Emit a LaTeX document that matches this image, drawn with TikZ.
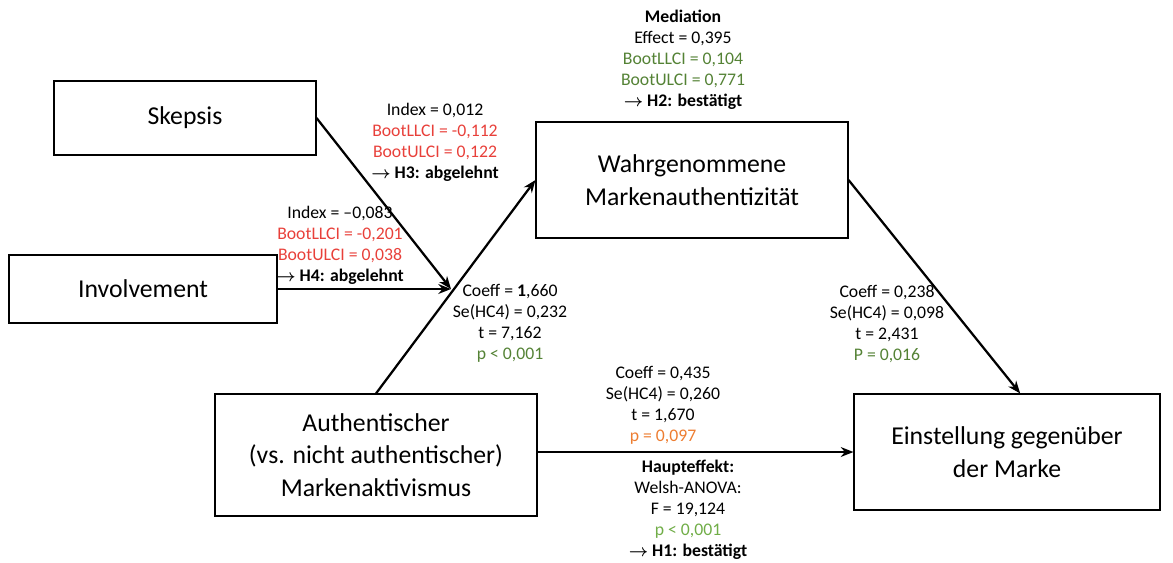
\documentclass[tikz,border=0pt]{standalone}
\usepackage{fontspec}
\setmainfont{Carlito}
\usetikzlibrary{arrows.meta}
\definecolor{sigred}{RGB}{232,64,58}
\definecolor{siggreen}{RGB}{84,130,53}
\definecolor{lightgreen}{RGB}{112,173,71}
\definecolor{trendorange}{RGB}{237,125,49}
\newcommand{\hyparrow}{{\boldmath$\rightarrow$}}

\begin{document}
\begin{tikzpicture}[x=0.025cm,y=-0.025cm,
    box/.style={draw,line width=1.3pt,align=center,font=\fontsize{18.3}{23}\selectfont},
    stat/.style={align=center,inner sep=0pt,font=\fontsize{12.6}{15}\selectfont},
    arrow/.style={line width=1.6pt,-{Stealth[length=9pt,width=7pt]}}]
    \useasboundingbox (0,0) rectangle (1173,562);
    \node[box,minimum width=6.53cm,minimum height=1.83cm] (skepsis) at (185,118) {Skepsis};
    \node[box,minimum width=6.68cm,minimum height=1.70cm] (involvement) at (143,289) {Involvement};
    \node[box,minimum width=8.05cm,minimum height=3.03cm] (aktivismus) at (376,455) {Authentischer\\(vs. nicht authentischer)\\Markenaktivismus};
    \node[box,minimum width=7.78cm,minimum height=2.90cm] (authentizitaet) at (692,180) {Wahrgenommene\\Markenauthentizit\"at};
    \node[box,minimum width=7.63cm,minimum height=2.88cm] (einstellung) at (1007,452) {Einstellung gegen\"uber\\der Marke};
    \coordinate (ma) at (451,289);
    \draw[arrow] (aktivismus.north) -- (authentizitaet.west);
    \draw[arrow] (skepsis.east) -- (ma);
    \draw[arrow] (involvement.east) -- (ma);
    \draw[arrow] (authentizitaet.east) -- ([xshift=0.33cm]einstellung.north);
    \draw[arrow] (aktivismus.east |- einstellung.west) -- (einstellung.west);
    \node[stat] (mediation) at (683,60) {\textbf{Mediation}\\Effect = 0,395\\\textcolor{siggreen}{BootLLCI = 0,104}\\\textcolor{siggreen}{BootULCI = 0,771}\\\hyparrow{} \textbf{H2: best\"atigt}};
    \node[stat] (hdrei) at (435,142) {Index = 0,012\\\textcolor{sigred}{BootLLCI = -0,112}\\\textcolor{sigred}{BootULCI = 0,122}\\\hyparrow{} \textbf{H3: abgelehnt}};
    \node[stat] (hvier) at (340,245) {Index = --0,083\\\textcolor{sigred}{BootLLCI = -0,201}\\\textcolor{sigred}{BootULCI = 0,038}\\\hyparrow{} \textbf{H4: abgelehnt}};
    \node[stat] (apath) at (510,323) {Coeff = \textbf{1},660\\Se(HC4) = 0,232\\t = 7,162\\\textcolor{siggreen}{p < 0,001}};
    \node[stat] (bpath) at (887,324) {Coeff = 0,238\\Se(HC4) = 0,098\\t = 2,431\\\textcolor{siggreen}{P = 0,016}};
    \node[stat] (cpath) at (663,405) {Coeff = 0,435\\Se(HC4) = 0,260\\t = 1,670\\\textcolor{trendorange}{p = 0,097}};
    \node[stat] (haupteffekt) at (688,510) {\textbf{Haupteffekt:}\\Welsh-ANOVA:\\F = 19,124\\\textcolor{lightgreen}{p < 0,001}\\\hyparrow{} \textbf{H1: best\"atigt}};
\end{tikzpicture}
\end{document}
